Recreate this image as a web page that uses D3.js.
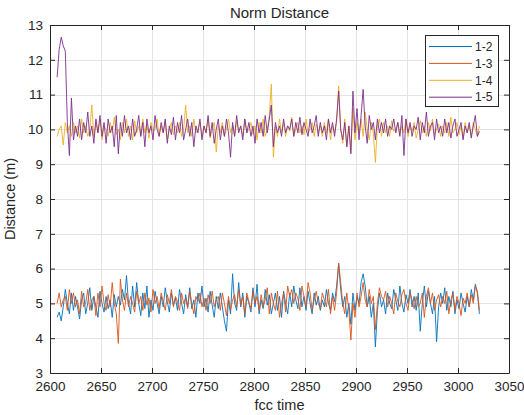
<!DOCTYPE html>
<meta charset="utf-8">
<style>
body {
  margin: 0;
  background: #fff;
}

text {
  font-family: "Liberation Sans", Arial, sans-serif;
  fill: #262626;
}

.axis text {
  font-size: 13.5px;
}

.grid line {
  stroke: #e3e3e3;
  stroke-width: 1;
}

.series {
  fill: none;
  stroke-width: 0.9;
  stroke-linejoin: round;
}

.legend text {
  font-size: 12px;
}
</style>
<body>
  <div id="chart"></div>
</body>
<script src="https://cdn.jsdelivr.net/npm/d3@7"></script>
<script>

// fcc time: first sample and sampling step
var tStart = 2607,
    tStep = 2;

var xTicks = [2600, 2650, 2700, 2750, 2800, 2850, 2900, 2950, 3000, 3050];
var yTicks = [3, 4, 5, 6, 7, 8, 9, 10, 11, 12, 13];

var names = ["1-2", "1-3", "1-4", "1-5"];
var colors = ["#0072BD", "#D95319", "#EDB120", "#7E2F8E"];

var d12 = [
  4.6, 4.75, 4.5, 4.9, 5.4, 5.0, 4.7, 5.3, 4.8, 5.2,
  4.9, 4.55, 5.1, 5.3, 4.7, 5.0, 5.45, 4.8, 5.2, 4.9,
  4.6, 5.35, 5.0, 4.75, 5.2, 4.85, 5.1, 4.6, 5.25, 4.9,
  5.2, 4.95, 5.4, 5.1, 5.8, 5.0, 4.7, 5.5, 4.9, 5.6,
  5.0, 4.65, 5.3, 4.85, 5.5, 4.6, 5.1, 4.8, 5.35, 5.0,
  4.7, 5.2, 4.9, 5.45, 5.05, 4.75, 5.3, 4.95, 5.15, 4.8,
  5.4, 5.0, 4.7, 5.25, 4.9, 5.45, 4.85, 5.1, 4.6, 5.3,
  5.0, 5.5, 4.9, 5.15, 4.75, 5.35, 4.95, 4.6, 5.2, 4.85,
  5.3, 4.9, 4.5, 4.2, 5.1, 4.7, 5.85, 5.0, 4.8, 5.6,
  4.9, 5.3, 4.6, 5.2, 5.0, 4.75, 5.45, 4.9, 5.55, 4.7,
  5.1, 4.85, 5.4, 4.95, 5.25, 4.7, 5.0, 5.3, 4.8, 5.2,
  4.6, 5.35, 5.0, 4.7, 5.3, 4.9, 5.5, 5.1, 4.85, 5.45,
  4.9, 5.2, 4.8, 5.35, 5.0, 4.7, 5.3, 4.95, 5.2, 4.8,
  5.1, 4.9, 5.4, 5.0, 4.8, 5.3, 5.05, 5.5, 6.15, 5.4,
  4.9, 5.2, 4.6, 5.0, 4.4, 5.3, 4.8, 5.2, 5.0, 5.6,
  5.85, 5.5, 4.9, 5.2, 4.6, 5.0, 3.75, 4.8, 5.3, 4.9,
  5.1, 4.7, 5.3, 5.0, 4.85, 5.4, 5.1, 4.8, 5.5, 5.0,
  4.75, 5.25, 5.0, 5.4, 4.9, 5.2, 4.8, 5.3, 4.2, 5.0,
  5.5, 4.9, 5.35, 5.0, 4.7, 5.2, 3.9, 4.9, 5.3, 5.0,
  5.45, 4.8, 5.2, 4.9, 5.35, 4.7, 5.1, 4.85, 5.3, 5.0,
  4.75, 5.2, 4.9, 5.4, 5.1, 5.55, 5.3, 4.7
];

var d13 = [
  5.0, 5.3, 4.9, 5.1, 5.2, 4.8, 5.4, 5.0, 5.3, 4.9,
  5.1, 4.7, 5.35, 4.9, 5.0, 5.4, 4.8, 5.1, 5.2, 4.65,
  5.3, 4.9, 5.5, 5.0, 4.8, 5.25, 4.9, 5.6, 5.0, 4.7,
  3.85, 5.7, 5.1, 4.8, 5.3, 4.9, 5.2, 5.0, 4.75, 5.35,
  5.0, 5.2, 4.8, 5.3, 4.95, 5.15, 4.75, 5.4, 5.0, 5.2,
  4.85, 5.3, 5.05, 4.8, 5.25, 5.0, 5.4, 4.9, 5.2, 5.05,
  4.8, 5.3, 5.0, 5.15, 4.85, 5.35, 5.0, 4.7, 5.2, 5.05,
  5.3, 4.9, 5.15, 4.8, 5.25, 5.0, 5.35, 4.9, 5.1, 5.2,
  4.8, 5.3, 5.0, 4.65, 5.2, 4.8, 5.1, 5.25, 4.9, 5.4,
  4.95, 5.2, 4.7, 5.3, 5.05, 4.85, 5.35, 5.0, 5.2, 4.8,
  5.25, 4.9, 5.1, 5.45, 4.7, 5.3, 5.0, 4.8, 5.35, 4.6,
  5.0, 5.3, 4.75, 5.5, 5.2, 5.4, 5.0, 5.3, 5.15, 4.8,
  5.5, 5.2, 4.9, 5.6, 5.3, 4.8, 5.1, 5.35, 5.0, 4.85,
  5.3, 5.1, 4.9, 5.4, 4.7, 5.2, 4.8, 5.3, 6.15, 5.6,
  5.0, 4.7, 5.3, 4.8, 3.95, 5.0, 4.6, 5.3, 4.9, 5.2,
  5.6, 5.1, 4.9, 5.4, 5.0, 5.2, 4.25, 5.0, 5.45, 5.2,
  5.1, 5.35, 4.9, 5.2, 5.0, 4.7, 5.3, 5.05, 4.9, 5.25,
  5.4, 5.0, 4.8, 5.3, 5.1, 4.85, 5.2, 4.9, 5.0, 5.3,
  4.6, 5.2, 5.45, 5.0, 5.3, 4.8, 5.1, 5.25, 4.9, 5.2,
  5.0, 5.35, 4.7, 5.1, 5.3, 4.8, 5.2, 5.0, 4.65, 5.15,
  5.0, 5.3, 4.9, 5.25, 5.0, 5.5, 5.35, 4.8
];

var d14 = [
  9.8, 10.0, 10.1, 9.55, 10.2, 9.9, 10.1, 9.8, 10.2, 9.9,
  10.1, 9.75, 10.3, 9.9, 10.1, 9.8, 10.0, 10.7, 9.8, 10.2,
  9.9, 10.3, 9.7, 10.1, 10.0, 9.8, 10.2, 9.9, 10.35, 9.85,
  10.0, 9.7, 10.2, 9.9, 10.3, 9.8, 10.1, 9.7, 10.25, 9.9,
  10.1, 9.8, 10.3, 9.9, 10.15, 9.75, 10.2, 9.95, 10.0, 10.3,
  9.8, 10.1, 9.9, 10.25, 9.7, 10.0, 10.2, 9.85, 10.1, 9.9,
  10.2, 9.8, 10.0, 10.7, 9.9, 10.1, 9.8, 10.3, 9.9, 10.0,
  10.2, 9.8, 10.1, 9.9, 10.3, 9.75, 10.0, 10.2, 9.35, 10.1,
  9.9, 10.2, 9.8, 10.0, 10.3, 9.9, 10.1, 9.8, 10.25, 9.95,
  10.1, 9.8, 10.3, 9.9, 10.0, 10.2, 9.85, 10.1, 9.7, 10.2,
  9.9, 10.3, 9.8, 10.0, 10.4, 11.3, 9.2, 10.1, 9.8, 10.3,
  9.9, 10.2, 9.8, 10.1, 9.95, 10.35, 9.8, 10.0, 10.2, 9.9,
  10.1, 9.85, 10.3, 9.9, 10.0, 10.2, 9.8, 10.15, 9.9, 10.1,
  9.8, 10.2, 9.9, 10.3, 9.7, 10.1, 9.9, 10.2, 11.25, 10.0,
  9.6, 10.3, 9.5, 10.1, 9.4, 10.6, 9.7, 10.2, 9.9, 10.3,
  9.8, 10.5, 10.0, 9.7, 10.2, 9.9, 9.05, 10.1, 10.3, 9.8,
  10.2, 9.9, 10.1, 9.8, 10.25, 9.95, 10.0, 10.2, 9.85, 10.1,
  9.9, 10.3, 9.8, 10.1, 9.95, 10.2, 9.75, 10.0, 10.25, 9.9,
  10.1, 9.8, 10.2, 9.95, 10.3, 9.85, 10.0, 10.15, 9.8, 10.1,
  9.9, 10.2, 9.8, 10.35, 9.9, 10.0, 10.2, 9.85, 10.1, 9.75,
  10.2, 9.9, 10.1, 9.8, 10.2, 10.0, 9.8, 10.1
];

var d15 = [
  11.5, 12.3, 12.65, 12.4, 12.25, 10.2, 9.25, 10.9, 9.7, 10.1,
  9.8, 10.3, 9.7, 10.2, 9.9, 10.5, 9.8, 10.1, 9.6, 10.3,
  9.9, 10.4, 9.8, 10.2, 9.6, 10.3, 9.9, 10.1, 9.5, 10.4,
  9.3, 10.2, 9.8, 10.4, 9.9, 10.1, 9.7, 10.3, 9.8, 10.0,
  10.4, 9.8, 10.2, 9.5, 10.3, 9.9, 10.1, 9.7, 10.4, 10.0,
  9.8, 10.2, 9.9, 10.3, 9.6, 10.1, 9.85, 10.35, 9.7, 10.2,
  9.9, 10.4, 9.7, 10.0, 10.3, 9.8, 10.2, 9.5, 10.1, 9.9,
  10.3, 9.7, 10.1, 9.9, 10.4, 9.8, 10.2, 9.6, 10.0, 10.3,
  9.7, 10.1, 9.8, 10.3, 9.9, 9.2, 10.2, 9.8, 10.4, 9.9,
  10.1, 9.7, 10.3, 9.9, 10.2, 9.8, 10.1, 9.6, 10.3, 9.9,
  10.2, 9.8, 10.4, 9.9, 10.3, 10.7, 9.5, 10.2, 9.9, 10.1,
  9.8, 10.3, 9.9, 10.1, 10.0, 10.3, 9.8, 10.2, 9.9, 10.35,
  9.85, 10.2, 10.0, 9.8, 10.3, 9.9, 10.1, 10.4, 9.8, 10.2,
  9.9, 10.1, 9.7, 10.3, 9.9, 10.2, 9.8, 10.3, 11.1, 10.0,
  9.7, 10.2, 9.5, 10.1, 9.3, 11.1, 9.9, 10.6, 9.7, 10.4,
  11.15, 10.1, 9.6, 10.4, 10.0, 10.2, 9.7, 10.3, 9.9, 10.2,
  9.9, 10.3, 9.8, 10.1, 10.0, 10.3, 9.9, 10.2, 9.8, 10.4,
  9.25, 10.3, 9.9, 10.2, 9.8, 10.1, 10.0, 10.35, 9.7, 10.2,
  9.9, 10.5, 9.8, 10.1, 10.2, 9.7, 10.3, 9.9, 10.1, 9.8,
  10.3, 9.9, 10.2, 9.75, 10.1, 10.3, 9.8, 10.0, 10.2, 9.7,
  10.1, 9.9, 10.2, 9.75, 10.1, 10.4, 9.8, 9.95
];

var width = 524,
    height = 415,
    margin = {top: 25, right: 15, bottom: 42, left: 50};

var x = d3.scaleLinear()
    .domain([2600, 3050])
    .range([margin.left, width - margin.right]);

var y = d3.scaleLinear()
    .domain([3, 13])
    .range([height - margin.bottom, margin.top]);

var svg = d3.select("#chart").append("svg")
    .attr("width", width)
    .attr("height", height);

// grid
var grid = svg.append("g").attr("class", "grid");
grid.selectAll("line.gx")
  .data(xTicks.slice(1, -1))
  .enter().append("line")
    .attr("x1", function(d) { return Math.round(x(d)) + 0.5; })
    .attr("x2", function(d) { return Math.round(x(d)) + 0.5; })
    .attr("y1", y(13))
    .attr("y2", y(3));
grid.selectAll("line.gy")
  .data(yTicks.slice(1, -1))
  .enter().append("line")
    .attr("y1", function(d) { return Math.round(y(d)) + 0.5; })
    .attr("y2", function(d) { return Math.round(y(d)) + 0.5; })
    .attr("x1", x(2600))
    .attr("x2", x(3050));

// lines
var series = [d12, d13, d14, d15];
var line = d3.line()
    .x(function(d, i) { return x(tStart + i * tStep); })
    .y(function(d) { return y(d); });

svg.append("g").selectAll("path")
  .data(series)
  .enter().append("path")
    .attr("class", "series")
    .attr("stroke", function(d, i) { return colors[i]; })
    .attr("d", line);

// axes with inward ticks on all four sides
function styleAxis(g) {
  g.select(".domain").attr("stroke", "#262626");
  g.selectAll(".tick line").attr("stroke", "#262626");
}

svg.append("g")
    .attr("class", "axis")
    .attr("transform", "translate(0," + y(3) + ")")
    .call(d3.axisBottom(x).tickValues(xTicks).tickFormat(d3.format("d"))
      .tickSize(-5).tickSizeOuter(0).tickPadding(8))
    .call(styleAxis);

svg.append("g")
    .attr("class", "axis")
    .attr("transform", "translate(0," + y(13) + ")")
    .call(d3.axisTop(x).tickValues(xTicks).tickSize(-5).tickSizeOuter(0).tickFormat(""))
    .call(styleAxis);

svg.append("g")
    .attr("class", "axis")
    .attr("transform", "translate(" + x(2600) + ",0)")
    .call(d3.axisLeft(y).tickValues(yTicks).tickSize(-5).tickSizeOuter(0).tickPadding(7))
    .call(styleAxis);

svg.append("g")
    .attr("class", "axis")
    .attr("transform", "translate(" + x(3050) + ",0)")
    .call(d3.axisRight(y).tickValues(yTicks).tickSize(-5).tickSizeOuter(0).tickFormat(""))
    .call(styleAxis);

// labels
svg.append("text")
    .attr("x", (x(2600) + x(3050)) / 2)
    .attr("y", 18)
    .attr("text-anchor", "middle")
    .style("font-size", "15px")
    .text("Norm Distance");

svg.append("text")
    .attr("x", (x(2600) + x(3050)) / 2)
    .attr("y", 410)
    .attr("text-anchor", "middle")
    .style("font-size", "14.5px")
    .text("fcc time");

svg.append("text")
    .attr("transform", "translate(15," + (y(3) + y(13)) / 2 + ") rotate(-90)")
    .attr("text-anchor", "middle")
    .style("font-size", "14.5px")
    .text("Distance (m)");

// legend
var legend = svg.append("g")
    .attr("class", "legend")
    .attr("transform", "translate(425,35)");

legend.append("rect")
    .attr("x", 0.5)
    .attr("y", 0.5)
    .attr("width", 73)
    .attr("height", 71)
    .attr("fill", "#fff")
    .attr("stroke", "#262626");

var item = legend.selectAll("g.item")
  .data(names)
  .enter().append("g")
    .attr("class", "item")
    .attr("transform", function(d, i) { return "translate(0," + (11.5 + i * 16.9) + ")"; });

item.append("line")
    .attr("x1", 4)
    .attr("x2", 47)
    .attr("stroke", function(d, i) { return colors[i]; })
    .attr("stroke-width", 1);

item.append("text")
    .attr("x", 50)
    .attr("dy", "0.35em")
    .text(function(d) { return d; });

</script>
